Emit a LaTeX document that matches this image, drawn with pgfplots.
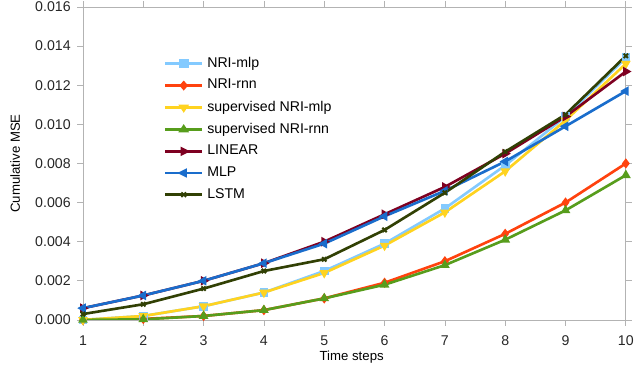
\documentclass[border=0pt]{standalone}
\usepackage{pgfplots}
\pgfplotsset{compat=1.18}
\usepackage{fontspec}
\setmainfont{Liberation Sans}
\definecolor{nrimlp}{HTML}{83CAFF}
\definecolor{nrirnn}{HTML}{FF420E}
\definecolor{supmlp}{HTML}{FFD320}
\definecolor{suprnn}{HTML}{579D1C}
\definecolor{linear}{HTML}{7E0021}
\definecolor{mlp}{HTML}{1A6DCC}
\definecolor{lstm}{HTML}{314004}
\definecolor{axgray}{HTML}{B3B3B3}
\begin{document}
\begin{tikzpicture}
% fixed page frame, so the axis sits where it does in the reference
\path[use as bounding box] (-44pt,-26pt) rectangle (295.5pt,169.7pt);
\begin{axis}[
  at={(0,0)}, anchor=south west,
  scale only axis,
  width=288pt, height=166pt,
  xmin=1, xmax=10, ymin=0, ymax=0.016,
  xtick={1,...,10},
  ytick={0,0.002,...,0.0161},
  scaled y ticks=false,
  yticklabel style={/pgf/number format/.cd, fixed, fixed zerofill, precision=3, assume math mode=true},
  xticklabel style={/pgf/number format/assume math mode=true, yshift=-2pt},
  tick label style={font=\fontsize{7.5}{9}\selectfont, text=black!85},
  label style={font=\fontsize{7}{8}\selectfont},
  xlabel={Time steps}, ylabel={Cumulative MSE},
  xlabel style={at={(axis description cs:0.495,-0.118)}, anchor=center},
  ylabel style={at={(axis description cs:-0.125,0.5)}, anchor=center, rotate=0},
  axis line style={axgray},
  tick style={axgray, thin},
  tick align=outside, major tick length=3pt,
  every axis plot/.append style={line width=1.4pt, mark size=1.6pt, mark options={solid}},
  legend style={draw=none, fill=none, at={(0.138,0.865)}, anchor=north west,
    font=\fontsize{7.5}{9}\selectfont, row sep=0.8pt},
  legend cell align=left,
  legend image post style={xscale=1.15},
]
\addplot[nrimlp, mark=square*] coordinates {
  (1,0.0000) (2,0.0002) (3,0.0007) (4,0.0014) (5,0.0025) (6,0.0039) (7,0.0057) (8,0.0079) (9,0.0104) (10,0.0134)};
\addlegendentry{NRI-mlp}
\addplot[nrirnn, mark=diamond*] coordinates {
  (1,0.0000) (2,0.00005) (3,0.0002) (4,0.0005) (5,0.0011) (6,0.0019) (7,0.0030) (8,0.0044) (9,0.0060) (10,0.0080)};
\addlegendentry{NRI-rnn}
\addplot[supmlp, mark=triangle*, mark options={rotate=180}] coordinates {
  (1,0.0000) (2,0.0002) (3,0.0007) (4,0.0014) (5,0.0024) (6,0.0038) (7,0.0055) (8,0.0076) (9,0.0102) (10,0.0131)};
\addlegendentry{supervised NRI-mlp}
\addplot[suprnn, mark=triangle*] coordinates {
  (1,0.0000) (2,0.00003) (3,0.0002) (4,0.0005) (5,0.0011) (6,0.0018) (7,0.0028) (8,0.0041) (9,0.0056) (10,0.0074)};
\addlegendentry{supervised NRI-rnn}
\addplot[linear, mark=triangle*, mark options={rotate=-90}] coordinates {
  (1,0.0006) (2,0.00125) (3,0.0020) (4,0.0029) (5,0.0040) (6,0.0054) (7,0.0068) (8,0.0085) (9,0.0104) (10,0.0127)};
\addlegendentry{LINEAR}
\addplot[mlp, mark=triangle*, mark options={rotate=90}] coordinates {
  (1,0.0006) (2,0.00125) (3,0.0020) (4,0.0029) (5,0.0039) (6,0.0053) (7,0.0066) (8,0.0081) (9,0.0099) (10,0.0117)};
\addlegendentry{MLP}
\addplot[lstm, mark=x, mark options={line width=1.1pt}] coordinates {
  (1,0.0003) (2,0.0008) (3,0.0016) (4,0.0025) (5,0.0031) (6,0.0046) (7,0.0065) (8,0.0086) (9,0.0105) (10,0.0135)};
\addlegendentry{LSTM}
\end{axis}
\end{tikzpicture}
\end{document}
